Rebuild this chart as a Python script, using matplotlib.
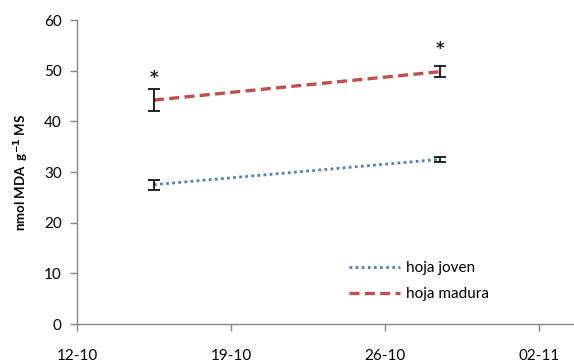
import matplotlib
matplotlib.use("Agg")
import matplotlib.pyplot as plt

# Sampling days (offset in days from 12-10) and MDA content
days = [3.5, 16.5]
joven = [27.5, 32.5]
joven_err = [1.0, 0.55]
madura = [44.2, 49.8]
madura_err = [2.1, 1.1]
star_y = [48.5, 54.2]

tick_days = [0, 7, 14, 21]
tick_labels = ["12-10", "19-10", "26-10", "02-11"]

plt.rcParams['font.family'] = ['Lato', 'DejaVu Sans']

fig = plt.figure(figsize=(5.74, 3.62), dpi=100)
ax = fig.add_axes([77/574, 38/362, 497/574, 304/362])

ax.plot(days, joven, linestyle=(0, (1, 1.2)), color="#4F81BD", lw=2.0,
        label="hoja joven", zorder=2)
ax.plot(days, madura, linestyle=(0, (3, 1.6)), color="#C0504D", lw=2.4,
        label="hoja madura", zorder=2)
ax.errorbar(days, joven, yerr=joven_err, fmt="none", ecolor="black",
            elinewidth=1.2, capsize=4.5, capthick=1.2, zorder=3)
ax.errorbar(days, madura, yerr=madura_err, fmt="none", ecolor="black",
            elinewidth=1.2, capsize=4.5, capthick=1.2, zorder=3)
for d, y in zip(days, star_y):
    ax.text(d, y, "*", ha="center", va="center", fontsize=12, color="#222222",
            family="DejaVu Sans", fontweight="bold")

ax.set_xlim(0, 22.6)
ax.set_ylim(0, 60)
ax.set_yticks(range(0, 61, 10))
ax.set_xticks(tick_days)
ax.set_xticklabels(tick_labels)

for s in ("top", "right"):
    ax.spines[s].set_visible(False)
for s in ("left", "bottom"):
    ax.spines[s].set_color("#878787")
    ax.spines[s].set_linewidth(1.0)
ax.tick_params(axis="both", colors="#878787", labelcolor="black",
               labelsize=11, length=5, width=1.0, direction="out")
ax.tick_params(axis="x", pad=13)
ax.tick_params(axis="y", pad=6)

ax.set_ylabel(r"nmol MDA  g$^{\mathbf{-1}}$ MS", fontsize=9.5, fontweight="bold",
              labelpad=9)

leg = ax.legend(loc="lower left", bbox_to_anchor=(0.52, 0.03), frameon=False,
                fontsize=11, handlelength=3.3, handletextpad=0.4,
                labelspacing=0.8)

fig.savefig("out.png", dpi=100)
